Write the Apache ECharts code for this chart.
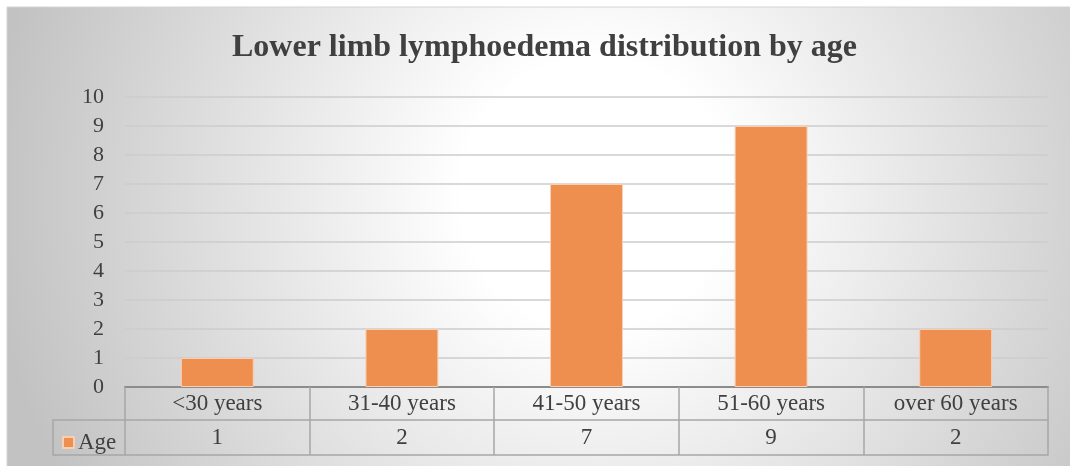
<!DOCTYPE html>
<html>
<head>
<meta charset="utf-8">
<script src="https://cdn.jsdelivr.net/npm/echarts@6/dist/echarts.min.js"></script>
<style>
  html, body { margin: 0; padding: 0; background: #fff; }
  #chart { width: 1070px; height: 466px; }
</style>
</head>
<body>
<div id="chart"></div>
<script>
// data
const categories = ['<30 years', '31-40 years', '41-50 years', '51-60 years', 'over 60 years'];
const ageCounts = [1, 2, 7, 9, 2];
const seriesName = 'Age';
const chartTitle = 'Lower limb lymphoedema distribution by age';

const serif = '"Liberation Serif", "DejaVu Serif", serif';
const textColor = '#404040';
const tableLine = { color: '#a6a6a6', width: 1.5 };

const chart = echarts.init(document.getElementById('chart'));

chart.setOption({
  animation: false,
  title: {
    text: chartTitle,
    left: 232,
    top: 32,
    padding: 0,
    textStyle: { fontFamily: serif, fontSize: 32, fontWeight: 'bold', color: textColor }
  },
  legend: {
    data: [seriesName],
    left: 57,
    top: 426,
    icon: 'rect',
    itemWidth: 11,
    itemHeight: 11,
    itemGap: 4,
    textStyle: { fontFamily: serif, fontSize: 23, color: textColor, padding: [0, 0, 0, -1] }
  },
  grid: { left: 125, right: 22, top: 97, bottom: 79, containLabel: false },
  graphic: [
    {
      type: 'rect',
      z: -10,
      silent: true,
      shape: { x: 7, y: 7, width: 1070, height: 466 },
      style: {
        fill: {
          type: 'radial', x: 0.55, y: 0.4, r: 1.3,
          colorStops: [
            { offset: 0, color: '#ffffff' },
            { offset: 0.22, color: '#ffffff' },
            { offset: 1, color: '#c2c2c2' }
          ]
        },
        stroke: '#d4d4d4',
        lineWidth: 1
      }
    },
    {
      // left legend cell of the data table
      type: 'polyline',
      silent: true,
      shape: { points: [[125, 420], [53, 420], [53, 455], [125, 455]] },
      style: { stroke: tableLine.color, lineWidth: tableLine.width, fill: null }
    }
  ],
  xAxis: [
    {
      type: 'category',
      data: categories,
      position: 'bottom',
      axisLine: { lineStyle: { color: '#8c8c8c', width: 2 } },
      axisTick: { show: true, length: 68, lineStyle: tableLine },
      axisLabel: {
        fontFamily: serif, fontSize: 23, color: textColor,
        verticalAlign: 'middle', margin: 17, interval: 0
      }
    },
    {
      type: 'category',
      data: ageCounts.map(String),
      position: 'bottom',
      offset: 33,
      axisLine: { lineStyle: tableLine },
      axisTick: { show: false },
      axisLabel: {
        fontFamily: serif, fontSize: 23, color: textColor,
        verticalAlign: 'middle', margin: 18, interval: 0
      }
    },
    {
      type: 'category',
      data: categories,
      position: 'bottom',
      offset: 68,
      axisLine: { lineStyle: tableLine },
      axisTick: { show: false },
      axisLabel: { show: false }
    }
  ],
  yAxis: {
    type: 'value',
    min: 0,
    max: 10,
    interval: 1,
    axisLine: { show: false },
    axisTick: { show: false },
    axisLabel: { fontFamily: serif, fontSize: 22, color: textColor, margin: 21 },
    splitLine: { lineStyle: { color: '#cdcdcd', width: 1.5 } }
  },
  series: [
    {
      name: seriesName,
      type: 'bar',
      xAxisIndex: 0,
      data: ageCounts,
      barWidth: '39.5%',
      itemStyle: { color: '#ee8f4f', borderColor: '#f8cfb2', borderWidth: 1 }
    }
  ]
});
</script>
</body>
</html>
